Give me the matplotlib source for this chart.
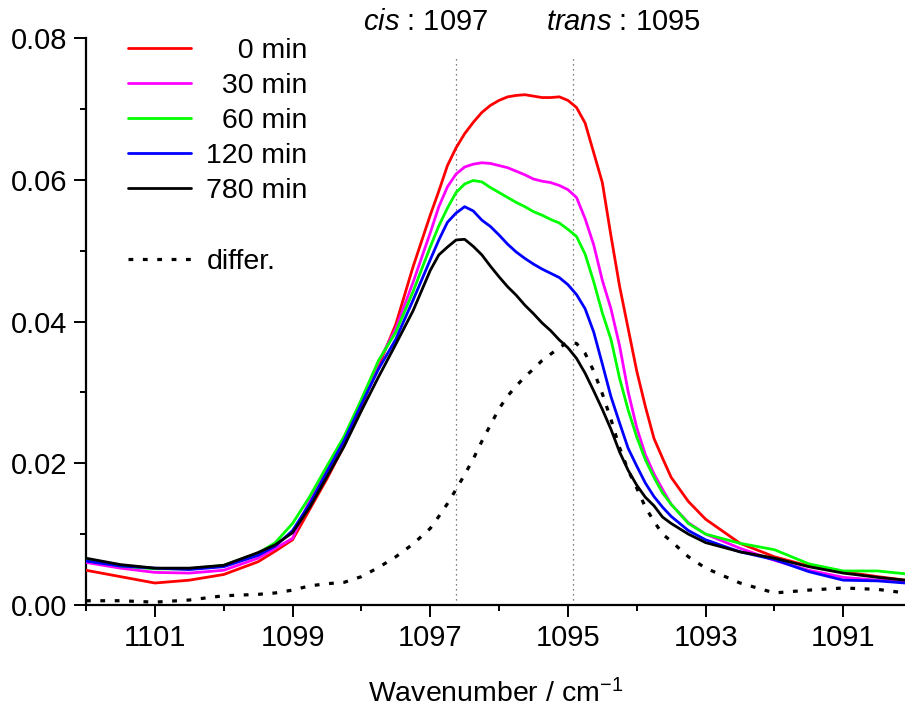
import numpy as np
import matplotlib
matplotlib.use("Agg")
import matplotlib.pyplot as plt
from matplotlib.lines import Line2D
from matplotlib.ticker import MultipleLocator, FormatStrFormatter

plt.rcParams['font.family'] = ['Liberation Sans', 'DejaVu Sans']
plt.rcParams['mathtext.fontset'] = 'custom'
plt.rcParams['mathtext.rm'] = 'Liberation Sans'
plt.rcParams['mathtext.it'] = 'Liberation Sans:italic'

##### spectra (absorbance vs wavenumber) ####
# finer sampling across the band, coarser on the baseline
wavenumber = np.array([
    1102.0, 1101.5, 1101.0, 1100.5, 1100.0, 1099.5, 1099.25, 1099.0,
    1098.75, 1098.5, 1098.25, 1098.0, 1097.75, 1097.5, 1097.25, 1097.0,
    1096.875, 1096.75, 1096.625, 1096.5, 1096.375, 1096.25, 1096.125, 1096.0,
    1095.875, 1095.75, 1095.625, 1095.5, 1095.375, 1095.25, 1095.125, 1095.0,
    1094.875, 1094.75, 1094.625, 1094.5, 1094.375, 1094.25, 1094.125, 1094.0,
    1093.875, 1093.75, 1093.625,
    1093.5, 1093.25, 1093.0, 1092.5, 1092.0, 1091.5, 1091.0, 1090.5, 1090.1])

abs_0min = np.array([
    0.0049, 0.0040, 0.0031, 0.0035, 0.0043, 0.0061, 0.0076, 0.0092,
    0.0135, 0.0178, 0.0225, 0.0281, 0.0337, 0.0396, 0.0477, 0.0550,
    0.0584, 0.0620, 0.0645, 0.0665, 0.0681, 0.0695, 0.0705, 0.0712,
    0.0717, 0.0719, 0.0720, 0.0718, 0.0716, 0.0716, 0.0717, 0.0712,
    0.0702, 0.0680, 0.0638, 0.0596, 0.0521, 0.0450, 0.0390, 0.0330,
    0.0280, 0.0235, 0.0207,
    0.0180, 0.0146, 0.0121, 0.0087, 0.0068, 0.0055, 0.0047, 0.0040, 0.0035])

abs_30min = np.array([
    0.0060, 0.0052, 0.0046, 0.0045, 0.0049, 0.0066, 0.0080, 0.0094,
    0.0148, 0.0190, 0.0235, 0.0288, 0.0343, 0.0390, 0.0455, 0.0525,
    0.0562, 0.0590, 0.0608, 0.0618, 0.0622, 0.0624, 0.0623, 0.0620,
    0.0617, 0.0612, 0.0607, 0.0601, 0.0598, 0.0596, 0.0592, 0.0586,
    0.0575, 0.0545, 0.0508, 0.0458, 0.0418, 0.0366, 0.0301, 0.0250,
    0.0212, 0.0185, 0.0163,
    0.0142, 0.0116, 0.0100, 0.0080, 0.0063, 0.0049, 0.0039, 0.0035, 0.0034])

abs_60min = np.array([
    0.0063, 0.0055, 0.0051, 0.0051, 0.0056, 0.0073, 0.0088, 0.0115,
    0.0153, 0.0196, 0.0238, 0.0290, 0.0345, 0.0385, 0.0442, 0.0505,
    0.0535, 0.0560, 0.0582, 0.0594, 0.0599, 0.0597, 0.0589, 0.0582,
    0.0575, 0.0568, 0.0562, 0.0555, 0.0550, 0.0544, 0.0539, 0.0530,
    0.0520, 0.0495, 0.0456, 0.0412, 0.0375, 0.0320, 0.0275, 0.0237,
    0.0205, 0.0180, 0.0158,
    0.0142, 0.0115, 0.0100, 0.0087, 0.0078, 0.0058, 0.0048, 0.0048, 0.0044])

abs_120min = np.array([
    0.0062, 0.0055, 0.0052, 0.0050, 0.0054, 0.0070, 0.0083, 0.0105,
    0.0143, 0.0188, 0.0232, 0.0283, 0.0333, 0.0375, 0.0430, 0.0487,
    0.0515, 0.0540, 0.0553, 0.0562, 0.0556, 0.0543, 0.0534, 0.0522,
    0.0509, 0.0498, 0.0489, 0.0481, 0.0474, 0.0468, 0.0462, 0.0452,
    0.0438, 0.0418, 0.0385, 0.0340, 0.0294, 0.0257, 0.0221, 0.0196,
    0.0172, 0.0153, 0.0138,
    0.0125, 0.0105, 0.0092, 0.0075, 0.0064, 0.0047, 0.0035, 0.0034, 0.0031])

abs_780min = np.array([
    0.0066, 0.0057, 0.0052, 0.0052, 0.0056, 0.0074, 0.0085, 0.0102,
    0.0138, 0.0181, 0.0224, 0.0274, 0.0322, 0.0368, 0.0415, 0.0472,
    0.0494, 0.0505, 0.0515, 0.0516, 0.0506, 0.0494, 0.0478, 0.0463,
    0.0449, 0.0437, 0.0423, 0.0411, 0.0398, 0.0387, 0.0374, 0.0363,
    0.0348, 0.0327, 0.0302, 0.0276, 0.0248, 0.0216, 0.0190, 0.0169,
    0.0152, 0.0140, 0.0124,
    0.0115, 0.0100, 0.0088, 0.0075, 0.0066, 0.0054, 0.0045, 0.0039, 0.0035])

abs_diff = np.array([
    0.0006, 0.0006, 0.0004, 0.0007, 0.0013, 0.0015, 0.0017, 0.0021,
    0.0027, 0.0030, 0.0032, 0.0040, 0.0053, 0.0068, 0.0086, 0.0108,
    0.0125, 0.0143, 0.0163, 0.0184, 0.0206, 0.0231, 0.0254, 0.0277,
    0.0295, 0.0309, 0.0322, 0.0333, 0.0345, 0.0354, 0.0363, 0.0371,
    0.0369, 0.0355, 0.0330, 0.0298, 0.0262, 0.0222, 0.0190, 0.0165,
    0.0138, 0.0118, 0.0100,
    0.0090, 0.0068, 0.0052, 0.0031, 0.0017, 0.0021, 0.0024, 0.0022, 0.0017])

series = [abs_0min, abs_30min, abs_60min, abs_120min, abs_780min]
colours = ['#ff0000', '#ff00ff', '#00ff00', '#0000ff', '#000000']
labels = ['\u2007\u20070 min', '\u200730 min', '\u200760 min', '120 min', '780 min']

# band positions marked by vertical guides
band_pos = [1096.62, 1094.93]
band_text = [r'$\mathit{cis}$ : 1097', r'$\mathit{trans}$ : 1095']
band_text_x = [1097.07, 1094.20]

FS = 20.5

fig = plt.figure(figsize=(9.05, 7.08), dpi=100)
ax = fig.add_axes([0.0950, 0.1455, 0.905, 0.8008])

for x in band_pos:
    ax.plot([x, x], [0, 0.0772], color='#555555', lw=0.9,
            linestyle=(0, (1, 3)), zorder=1)
for x, t in zip(band_text_x, band_text):
    ax.text(x, 0.0823, t, ha='center', va='center', fontsize=FS + 0.5,
            clip_on=False)

handles = []
for y, c, lab in zip(series, colours, labels):
    line, = ax.plot(wavenumber, y, color=c, lw=2.0, label=lab, zorder=3,
                    solid_joinstyle='round', solid_capstyle='round')
    handles.append(line)

diff_line, = ax.plot(wavenumber, abs_diff, color='black', lw=2.3,
                     linestyle=(0, (1.5, 3.0)), label='differ.', zorder=2)

blank = Line2D([], [], color='none', label=' ')
handles += [blank, diff_line]

ax.legend(handles=handles, loc='upper left', bbox_to_anchor=(0.0513, 1.0),
          frameon=False, fontsize=FS, handlelength=2.2, handletextpad=0.55,
          labelspacing=0.32, borderpad=0, borderaxespad=0)

## axes
ax.set_xlim(1102.0, 1090.104)
ax.set_ylim(0, 0.08)
ax.xaxis.set_major_locator(plt.FixedLocator([1101, 1099, 1097, 1095, 1093, 1091]))
ax.xaxis.set_minor_locator(plt.FixedLocator([1102, 1100, 1098, 1096, 1094, 1092, 1090]))
ax.yaxis.set_major_locator(MultipleLocator(0.02))
ax.yaxis.set_minor_locator(MultipleLocator(0.01))
ax.yaxis.set_major_formatter(FormatStrFormatter('%.2f'))
ax.xaxis.set_major_formatter(FormatStrFormatter('%d'))

for side in ['top', 'right']:
    ax.spines[side].set_visible(False)
for side in ['left', 'bottom']:
    ax.spines[side].set_linewidth(1.6)

ax.tick_params(which='major', direction='out', length=8.5, width=1.4,
               labelsize=FS + 0.5, pad=5)
ax.tick_params(which='minor', direction='out', length=4, width=1.4)

ax.set_xlabel('Wavenumber / cm$^{-1}$', fontsize=FS, labelpad=20)

fig.savefig('out.png', dpi=100)
